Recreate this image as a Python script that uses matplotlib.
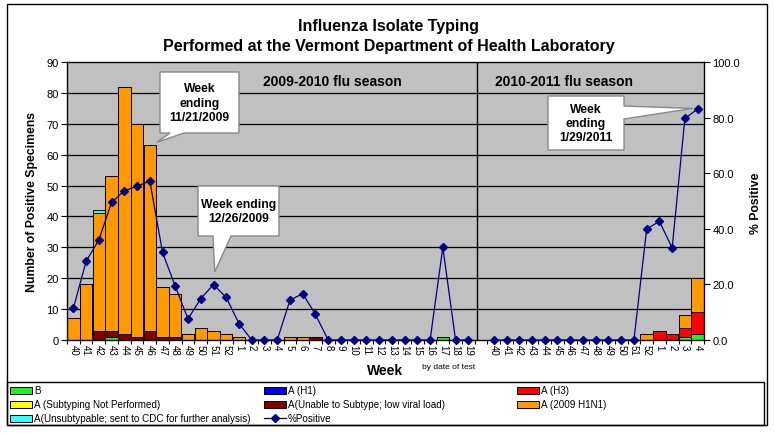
import numpy as np
import matplotlib
matplotlib.use("Agg")
import matplotlib.pyplot as plt
from matplotlib.patches import Polygon, Rectangle
from matplotlib.lines import Line2D
from matplotlib.transforms import IdentityTransform

plt.rcParams['font.family'] = ['Liberation Sans', 'DejaVu Sans']

# ---------------- data ----------------
weeks_0910 = ['40', '41', '42', '43', '44', '45', '46', '47', '48', '49', '50', '51', '52',
              '1', '2', '3', '4', '5', '6', '7', '8', '9', '10', '11', '12', '13', '14',
              '15', '16', '17', '18', '19']
weeks_1011 = ['40', '41', '42', '43', '44', '45', '46', '47', '48', '49', '50', '51', '52',
              '1', '2', '3', '4']
week_labels = weeks_0910 + [''] + weeks_1011

b_vals = [0, 0, 0, 1, 0, 0, 0, 0, 0, 0, 0, 0, 0,
          0, 0, 0, 0, 0, 0, 0, 0, 0, 0, 0, 0, 0, 0, 0, 0, 1, 0, 0,
          0,
          0, 0, 0, 0, 0, 0, 0, 0, 0, 0, 0, 0, 0, 0, 0, 1, 2]
h1_vals = [0] * 50
h3_vals = [0, 0, 0, 0, 0, 0, 0, 0, 0, 0, 0, 0, 0,
           0, 0, 0, 0, 0, 0, 0, 0, 0, 0, 0, 0, 0, 0, 0, 0, 0, 0, 0,
           0,
           0, 0, 0, 0, 0, 0, 0, 0, 0, 0, 0, 0, 0, 3, 2, 3, 7]
notsub_vals = [0] * 50
unable_vals = [0, 0, 3, 2, 2, 1, 3, 1, 1, 0, 0, 0, 0,
               0, 0, 0, 0, 0, 0, 1, 0, 0, 0, 0, 0, 0, 0, 0, 0, 0, 0, 0,
               0,
               0, 0, 0, 0, 0, 0, 0, 0, 0, 0, 0, 0, 0, 0, 0, 0, 0]
h1n1_vals = [7, 18, 38, 50, 80, 69, 60, 16, 14, 2, 4, 3, 2,
             1, 0, 0, 0, 1, 1, 0, 0, 0, 0, 0, 0, 0, 0, 0, 0, 0, 0, 0,
             0,
             0, 0, 0, 0, 0, 0, 0, 0, 0, 0, 0, 0, 2, 0, 0, 4, 11]
cdc_vals = [0, 0, 1, 0, 0, 0, 0, 0, 0, 0, 0, 0, 0,
            0, 0, 0, 0, 0, 0, 0, 0, 0, 0, 0, 0, 0, 0, 0, 0, 0, 0, 0,
            0,
            0, 0, 0, 0, 0, 0, 0, 0, 0, 0, 0, 0, 0, 0, 0, 0, 0]
pct_positive = [11.4, 28.3, 36.0, 49.5, 53.7, 55.3, 57.2, 31.5, 19.3, 7.6, 14.9, 19.9, 15.3,
                5.9, 0, 0, 0, 14.3, 16.7, 9.2, 0, 0, 0, 0, 0, 0, 0, 0, 0, 33.3, 0, 0,
                np.nan,
                0, 0, 0, 0, 0, 0, 0, 0, 0, 0, 0, 0, 39.9, 42.7, 33.1, 79.7, 83.1]

series_names = ['B', 'A (H1)', 'A (H3)', 'A (Subtyping Not Performed)',
                'A(Unable to Subtype; low viral load)', 'A (2009 H1N1)',
                'A(Unsubtypable; sent to CDC for further analysis)']
series_vals = [b_vals, h1_vals, h3_vals, notsub_vals, unable_vals, h1n1_vals, cdc_vals]
series_colors = ['#22EE22', '#0000FF', '#FF0000', '#FFFF00', '#800000', '#FF9900', '#33FFFF']

# ---------------- figure ----------------
W, H = 774, 435
fig = plt.figure(figsize=(W / 100, H / 100), dpi=100)
fig.patch.set_facecolor('white')

def fx(x):
    return x / W

def fy(y):
    return 1 - y / H

ax = fig.add_axes([fx(67), fy(341), (704 - 67) / W, (341 - 63) / H])
ax.set_facecolor('#C0C0C0')
n = len(week_labels)
x = np.arange(n)
ax.set_xlim(-0.5, n - 0.5)
ax.set_ylim(0, 90)

for yv in range(10, 90, 10):
    ax.axhline(yv, color='black', lw=0.9, zorder=0.5)

bottom = np.zeros(n)
for vals, col in zip(series_vals, series_colors):
    v = np.array(vals, dtype=float)
    ax.bar(x, v, bottom=bottom, width=0.97, color=col, edgecolor='black',
           linewidth=0.7, zorder=2)
    bottom += v

# season separator
ax.axvline(31.7, color='black', lw=1.0, zorder=1)

ax.set_yticks(range(0, 91, 10))
ax.tick_params(axis='y', direction='out', length=4, width=0.8, labelsize=8, pad=2)
ax.set_xticks(x)
ax.set_xticklabels(week_labels, rotation=270, fontsize=7)
ax.tick_params(axis='x', length=0, pad=3)
ax.set_xticks(np.arange(-0.5, n, 1.0), minor=True)
ax.tick_params(axis='x', which='minor', direction='out', length=3, width=0.8)
for s in ax.spines.values():
    s.set_color('black')
    s.set_linewidth(0.9)

ax2 = ax.twinx()
ax2.set_ylim(0, 100)
ax2.set_yticks(range(0, 101, 20))
ax2.set_yticklabels([f'{v:.1f}' for v in range(0, 101, 20)])
ax2.tick_params(axis='y', direction='out', length=4, width=0.8, labelsize=8, pad=2)
ax2.plot(x, pct_positive, color='#000080', lw=0.9, marker='D', markersize=4.2,
         markerfacecolor='#000080', markeredgecolor='#000080', clip_on=False, zorder=3)

# ---------------- callouts ----------------
def callout(box, tip_disp, side, b1, b2):
    x0, y0, x1, y1 = box
    t, b = H - y0, H - y1
    tx, ty = tip_disp
    if side == 'bottom':
        verts = [(x0, t), (x1, t), (x1, b), (b2, b), (tx, ty), (b1, b), (x0, b)]
    else:  # right
        verts = [(x0, t), (x1, t), (x1, H - b1), (tx, ty), (x1, H - b2), (x1, b), (x0, b)]
    poly = Polygon(verts, closed=True, transform=IdentityTransform(), facecolor='white',
                   edgecolor='#888888', linewidth=1.0, zorder=5)
    fig.add_artist(poly)

tip1 = ax.transData.transform((6.55, 64.0))
callout((160, 73, 239, 134), tip1, 'bottom', 170, 184)
fig.text(fx(199.5), fy(103.5), 'Week\nending\n11/21/2009', ha='center', va='center',
         fontsize=8.7, fontweight='bold', linespacing=1.25, zorder=6)

tip2 = ax2.transData.transform((11.1, 24.5))
callout((198, 187, 279, 237), tip2, 'bottom', 213, 231)
fig.text(fx(238.5), fy(212), 'Week ending\n12/26/2009', ha='center', va='center',
         fontsize=8.7, fontweight='bold', linespacing=1.3, zorder=6)

tip3 = ax2.transData.transform((48.6, 83.3))
callout((548, 97, 624, 151), tip3, 'right', 107, 120)
fig.text(fx(586), fy(124), 'Week\nending\n1/29/2011', ha='center', va='center',
         fontsize=8.7, fontweight='bold', linespacing=1.25, zorder=6)

# ---------------- texts ----------------
fig.text(fx(389), fy(27), 'Influenza Isolate Typing', ha='center', va='center',
         fontsize=11.5, fontweight='bold')
fig.text(fx(389), fy(47), 'Performed at the Vermont Department of Health Laboratory',
         ha='center', va='center', fontsize=11.5, fontweight='bold')
fig.text(fx(332), fy(82), '2009-2010 flu season', ha='center', va='center',
         fontsize=10, fontweight='bold', zorder=4)
fig.text(fx(564), fy(82), '2010-2011 flu season', ha='center', va='center',
         fontsize=10, fontweight='bold', zorder=4)
fig.text(fx(32), fy(202), 'Number of Positive Specimens', rotation=90, ha='center',
         va='center', fontsize=8.8, fontweight='bold')
fig.text(fx(756), fy(203), '% Positive', rotation=90, ha='center', va='center',
         fontsize=8.8, fontweight='bold')
fig.text(fx(385), fy(371), 'Week', ha='center', va='center', fontsize=10,
         fontweight='bold')
fig.text(fx(422), fy(368), 'by date of test', ha='left', va='center', fontsize=6)

# ---------------- frames ----------------
fig.add_artist(Rectangle((fx(7), fy(426)), (767 - 7) / W, (426 - 5) / H,
                         transform=fig.transFigure, fill=False, edgecolor='black',
                         linewidth=1.0, zorder=0))
fig.add_artist(Rectangle((fx(7), fy(426)), (764 - 7) / W, (426 - 383) / H,
                         transform=fig.transFigure, fill=False, edgecolor='black',
                         linewidth=1.0, zorder=0))

# ---------------- legend (manual) ----------------
leg_size = 7.1
col_x = [10, 264, 517]
row_y = [391, 405, 419]
layout = [(0, 0, 0), (1, 0, 1), (2, 0, 2), (3, 1, 0), (4, 1, 1), (5, 1, 2), (6, 2, 0)]
for idx, r, c in layout:
    px, py = col_x[c], row_y[r]
    fig.add_artist(Rectangle((fx(px), fy(py + 3.5)), 22 / W, 7 / H,
                             transform=fig.transFigure, facecolor=series_colors[idx],
                             edgecolor='black', linewidth=0.7))
    fig.text(fx(px + 24), fy(py), series_names[idx], ha='left', va='center',
             fontsize=leg_size)
px, py = col_x[1], row_y[2]
fig.add_artist(Line2D([fx(px), fx(px + 22)], [fy(py), fy(py)], transform=fig.transFigure,
                      color='#000080', lw=0.9))
fig.add_artist(Line2D([fx(px + 11)], [fy(py)], transform=fig.transFigure, marker='D',
                      markersize=4, color='#000080', lw=0))
fig.text(fx(px + 24), fy(py), '%Positive', ha='left', va='center', fontsize=leg_size)

fig.savefig('out.png', dpi=100)
